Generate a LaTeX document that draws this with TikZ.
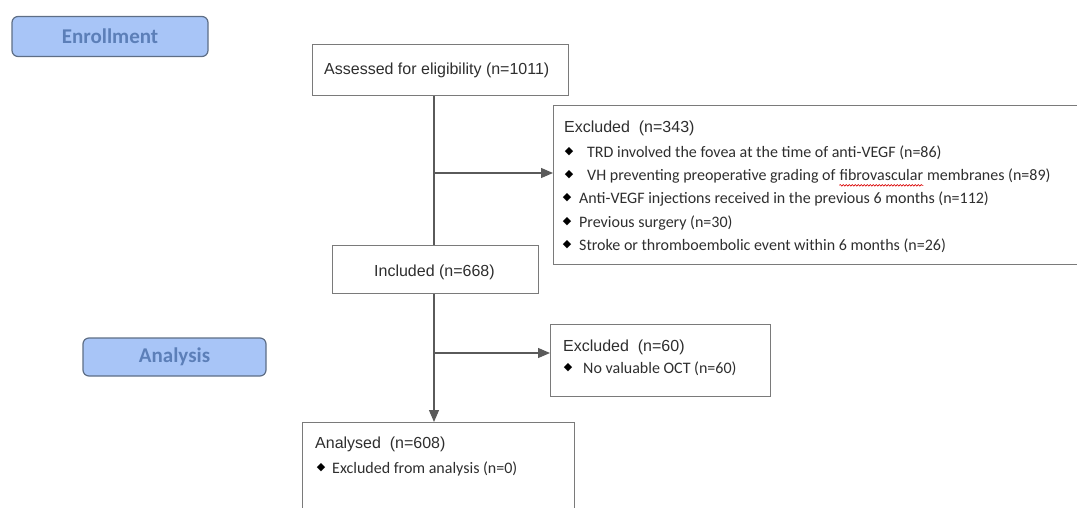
\documentclass[tikz,border=0pt]{standalone}
\usepackage{fontspec}
\setmainfont{Liberation Sans}
\newfontfamily\calfont{Carlito}
\newfontfamily\dvfont{DejaVu Sans}
\usetikzlibrary{arrows.meta,decorations.pathmorphing}
\definecolor{labfill}{HTML}{A8C5F7}
\definecolor{labdraw}{HTML}{5E6E86}
\definecolor{labtext}{HTML}{5C7FB8}
\definecolor{boxgray}{HTML}{7A7A7A}
\definecolor{linegray}{HTML}{5A5A5A}
\definecolor{txt}{HTML}{2E2E2E}
\begin{document}
\begin{tikzpicture}[x=1pt,y=-1pt,
  stage/.style={draw=labdraw,fill=labfill,line width=1.2pt,rounded corners=6pt,
    text=labtext,font=\calfont\bfseries\fontsize{21}{24}\selectfont,inner sep=0pt},
  box/.style={draw=boxgray,line width=1.1pt,inner sep=0pt,anchor=north west},
  htext/.style={anchor=base west,inner sep=0pt,text=txt,font=\fontsize{16}{19}\selectfont},
  ctext/.style={anchor=base west,inner sep=0pt,text=txt,font=\calfont\fontsize{16}{19}\selectfont},
  bul/.style={anchor=center,inner sep=0pt,text=black,font=\dvfont\fontsize{11}{12}\selectfont},
  conn/.style={draw=linegray,line width=1.2pt},
  arr/.style={conn,-{Triangle[length=12pt,width=10pt]}}
]
\useasboundingbox (0,0) rectangle (1077,507);
\clip (0,0) rectangle (1077,507);

% stage labels
\node[stage,minimum width=196pt,minimum height=40pt] (enroll) at (110,36.5) {Enrollment};
\node[stage,minimum width=183pt,minimum height=38pt] (analysis) at (174.5,357) {Analysis};

% boxes
\node[box,minimum width=256pt,minimum height=51pt] (assess) at (312,44) {};
\node[box,minimum width=540pt,minimum height=159pt] (excl1) at (553,105) {};
\node[box,minimum width=206pt,minimum height=48pt] (incl) at (332,245) {};
\node[box,minimum width=220pt,minimum height=72pt] (excl2) at (550,324) {};
\node[box,minimum width=272pt,minimum height=120pt] (anal) at (302,422) {};

% texts
\node[htext] (t1) at (324,74) {Assessed for eligibility (n=1011)};
\node[htext] (t2) at (374,276) {Included (n=668)};

\node[htext] (e1) at (564,132) {Excluded\ \ (n=343)};
\node[bul] (b1) at (569,152) {◆};
\node[ctext] (l1) at (587,157.5) {TRD involved the fovea at the time of anti-VEGF (n=86)};
\node[bul] (b2) at (569,175) {◆};
\node[ctext] (l2a) at (587,180.8) {VH preventing preoperative grading of};
\node[ctext,anchor=base west] (l2b) at ([xshift=3.6pt]l2a.base east) {fibrovascular};
\node[ctext,anchor=base west] (l2c) at ([xshift=3.6pt]l2b.base east) {membranes (n=89)};
\draw[red!85!black,line width=0.6pt,decorate,decoration={snake,amplitude=0.8pt,segment length=3pt}]
  ([yshift=-4.5pt]l2b.base west) -- ([yshift=-4.5pt]l2b.base east);
\node[bul] (b3) at (567,198) {◆};
\node[ctext] (l3) at (579,203.8) {Anti-VEGF injections received in the previous 6 months (n=112)};
\node[bul] (b4) at (567,222) {◆};
\node[ctext] (l4) at (579,227.8) {Previous surgery (n=30)};
\node[bul] (b5) at (567,245) {◆};
\node[ctext] (l5) at (579,250.8) {Stroke or thromboembolic event within 6 months (n=26)};

\node[htext] (e2) at (563,351) {Excluded\ \ (n=60)};
\node[bul] (b6) at (568,368) {◆};
\node[ctext] (l6) at (583,373.8) {No valuable OCT (n=60)};

\node[htext] (a1) at (315,448) {Analysed\ \ (n=608)};
\node[bul] (b7) at (321,468) {◆};
\node[ctext] (l7) at (332,473.8) {Excluded from analysis (n=0)};

% connectors
\coordinate (j2) at (434,173);
\coordinate (j3) at (434,353);
\draw[conn] (434,0 |- assess.south) -- (434,0 |- incl.north);
\draw[arr] (j2) -- (excl1.west |- j2);
\draw[arr] (434,0 |- incl.south) -- (434,0 |- anal.north);
\draw[arr] (j3) -- (excl2.west |- j3);
\end{tikzpicture}
\end{document}
